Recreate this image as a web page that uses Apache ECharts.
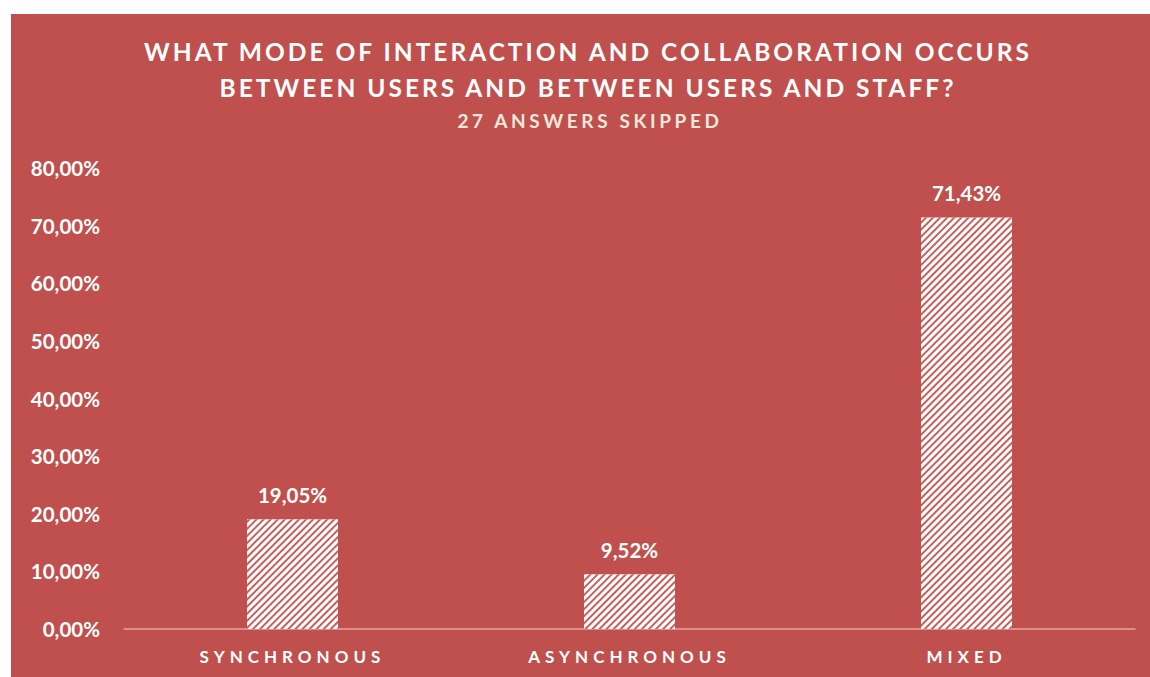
<!DOCTYPE html>
<html>
<head>
<meta charset="utf-8">
<script src="https://cdn.jsdelivr.net/npm/echarts@6/dist/echarts.min.js"></script>
<style>
  html, body { margin: 0; padding: 0; background: #ffffff; }
  #chart { position: absolute; left: 11px; top: 14px; width: 1139px; height: 663px; }
</style>
</head>
<body>
<div id="chart"></div>
<script>
// Survey question: share of answers per interaction mode
const titleLines = [
  'WHAT MODE OF INTERACTION AND COLLABORATION OCCURS',
  'BETWEEN USERS AND BETWEEN USERS AND STAFF?'
];
const subtitleText = '27 ANSWERS SKIPPED';
const categories = ['SYNCHRONOUS', 'ASYNCHRONOUS', 'MIXED'];
const shares = [19.05, 9.52, 71.43];
const yTicks = [0, 10, 20, 30, 40, 50, 60, 70, 80];

const RED = '#C0504D';
const FONT = 'Lato, "Open Sans", sans-serif';

// Extra tracking for the spaced-out capitals, applied to the SVG text nodes
const tracking = {};
titleLines.forEach(t => tracking[t] = 3.0);
tracking[subtitleText] = 3.6;
categories.forEach(c => tracking[c] = 5);

const fmtPct = v => v.toFixed(2).replace('.', ',') + '%';

const chart = echarts.init(document.getElementById('chart'), null, { renderer: 'svg' });

chart.setOption({
  animation: false,
  backgroundColor: RED,
  title: [
    {
      text: titleLines.join('\n'),
      left: 572, top: 14, textAlign: 'center',
      textStyle: { color: '#ffffff', fontFamily: FONT, fontWeight: 'bold', fontSize: 24.5, lineHeight: 36 }
    },
    {
      text: subtitleText,
      left: 574, top: 92, textAlign: 'center',
      textStyle: { color: '#EEE8DC', fontFamily: FONT, fontWeight: 'bold', fontSize: 19 }
    }
  ],
  grid: { left: 113, right: 15, top: 154, bottom: 48, containLabel: false },
  xAxis: {
    type: 'category',
    data: categories,
    axisLine: { lineStyle: { color: '#E8A4A1', width: 1.5 } },
    axisTick: { show: false },
    axisLabel: { color: '#ffffff', fontFamily: FONT, fontWeight: 'bold', fontSize: 17, margin: 19 }
  },
  yAxis: {
    type: 'value',
    min: yTicks[0], max: yTicks[yTicks.length - 1], interval: 10,
    splitLine: { show: false },
    axisLine: { show: false },
    axisTick: { show: false },
    axisLabel: {
      color: '#ffffff', fontFamily: FONT, fontWeight: 'bold', fontSize: 20.5, margin: 24,
      formatter: v => fmtPct(v)
    }
  },
  series: [{
    type: 'bar',
    data: shares,
    barWidth: '27%',
    itemStyle: {
      color: '#ffffff',
      decal: {
        symbol: 'rect',
        symbolSize: 1,
        dashArrayX: [1, 0],
        dashArrayY: [2, 3],
        rotation: -Math.PI / 4,
        color: '#C95F5C'
      }
    },
    label: {
      show: true, position: 'top', distance: 14,
      color: '#ffffff', fontFamily: FONT, fontWeight: 'bold', fontSize: 20.5,
      formatter: p => fmtPct(p.value)
    }
  }]
});

function applyTracking() {
  chart.getDom().querySelectorAll('text').forEach(el => {
    const sp = tracking[el.textContent.trim()];
    if (sp) el.setAttribute('letter-spacing', sp + 'px');
  });
}
chart.on('rendered', applyTracking);
applyTracking();
</script>
</body>
</html>
